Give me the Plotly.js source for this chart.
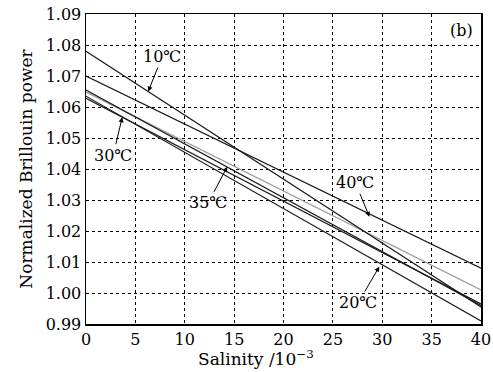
<!DOCTYPE html>
<html>
<head>
<meta charset="utf-8">
<script src="https://cdn.plot.ly/plotly-3.0.1.min.js"></script>
<style>html,body{margin:0;padding:0;background:#fff;}#chart{width:493px;height:372px;}</style>
</head>
<body>
<div id="chart"></div>
<script>
// Salinity (10^-3) at the ends of each straight line
const salinity = [0, 40];
// Normalized Brillouin power read at salinity 0 and 40
const power10 = [1.078, 0.9955];
const power20 = [1.0635, 0.991];
const power25 = [1.0648, 1.001];   // grey, unlabeled curve
const power30 = [1.0628, 0.9965];
const power35 = [1.0655, 0.996];
const power40 = [1.070, 1.008];

const xTicks = [0, 5, 10, 15, 20, 25, 30, 35, 40];
const yTicks = [0.99, 1.00, 1.01, 1.02, 1.03, 1.04, 1.05, 1.06, 1.07, 1.08, 1.09];

// label annotations: [text, x, y of arrow tip]
const labels = [
  ['10℃', 6.3, 1.065],
  ['30℃', 3.67, 1.0567],
  ['35℃', 14.3, 1.0407],
  ['40℃', 28.7, 1.0246],
  ['20℃', 29.7, 1.0085]
];
const labelOffsets = [[14, -35], [-9, 38], [-19, 36], [-14, -34], [-21, 36]];

const FONT = 'DejaVu Serif';
function line(y, color, name) {
  return {x: salinity, y: y, type: 'scatter', mode: 'lines', name: name,
          line: {color: color, width: 1.2}, hoverinfo: 'skip'};
}
const data = [
  line(power25, '#9a9a9a', '25℃'),
  line(power10, '#1a1a1a', '10℃'),
  line(power40, '#1a1a1a', '40℃'),
  line(power35, '#1a1a1a', '35℃'),
  line(power30, '#1a1a1a', '30℃'),
  line(power20, '#1a1a1a', '20℃')
];

const annotations = labels.map((l, i) => ({
  x: l[1], y: l[2], xref: 'x', yref: 'y', text: l[0],
  showarrow: true, arrowhead: 2, arrowsize: 1, arrowwidth: 1, arrowcolor: '#000',
  ax: labelOffsets[i][0], ay: labelOffsets[i][1],
  font: {family: FONT, size: 16, color: '#000'}
}));
annotations.push({
  x: 0.985, y: 0.985, xref: 'paper', yref: 'paper', xanchor: 'right', yanchor: 'top',
  text: '(b)', showarrow: false, font: {family: FONT, size: 16, color: '#000'}
});
annotations.push({
  x: 0.43, y: -0.11, xref: 'paper', yref: 'paper', xanchor: 'center', yanchor: 'middle',
  text: 'Salinity /10<sup>−3</sup>', showarrow: false, font: {family: FONT, size: 17, color: '#000'}
});

const layout = {
  width: 493, height: 372,
  margin: {l: 86, r: 12, t: 14, b: 48},
  paper_bgcolor: '#fff', plot_bgcolor: '#fff',
  showlegend: false,
  font: {family: FONT, size: 16, color: '#000'},
  xaxis: {
    range: [0, 40], tickvals: xTicks, ticktext: xTicks.map(String),
    showgrid: true, gridcolor: '#000', gridwidth: 1, griddash: '3px,3px',
    showline: true, mirror: true, linecolor: '#000', linewidth: 1.5,
    ticks: '', zeroline: false, tickfont: {family: FONT, size: 16, color: '#000'}
  },
  yaxis: {
    range: [0.99, 1.09], tickvals: yTicks, ticktext: yTicks.map(v => v.toFixed(2)),
    showgrid: true, gridcolor: '#000', gridwidth: 1, griddash: '3px,3px',
    showline: true, mirror: true, linecolor: '#000', linewidth: 1.5,
    ticks: '', zeroline: false, tickfont: {family: FONT, size: 16, color: '#000'},
    title: {text: 'Normalized Brillouin power', font: {family: FONT, size: 17, color: '#000'}, standoff: 8}
  },
  annotations: annotations
};

Plotly.newPlot('chart', data, layout, {staticPlot: true, displayModeBar: false});
</script>
</body>
</html>
